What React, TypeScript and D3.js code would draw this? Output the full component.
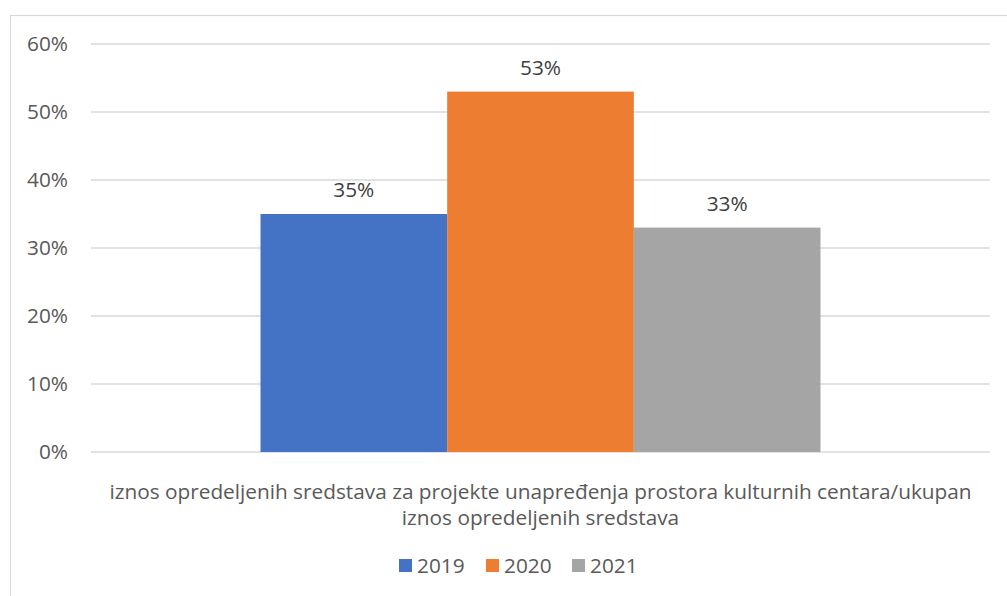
import React from "react";
import * as d3 from "d3";

const categories = ["iznos opredeljenih sredstava za projekte unapređenja prostora kulturnih centara/ukupan iznos opredeljenih sredstava"];
const categoryLines = ["iznos opredeljenih sredstava za projekte unapređenja prostora kulturnih centara/ukupan", "iznos opredeljenih sredstava"];
const seriesNames = ["2019", "2020", "2021"];
const seriesValues = [0.35, 0.53, 0.33];
const seriesColors = ["#4472C4", "#ED7D31", "#A5A5A5"];
const yTicks = [0, 0.1, 0.2, 0.3, 0.4, 0.5, 0.6];

const W = 1007;
const H = 596;
const left = 91;
const right = 990;
const top = 44;
const bottom = 452;
const font = "'Open Sans', sans-serif";
const fs = 20.8;

export default function App() {
  const y = d3.scaleLinear().domain([0, 0.6]).range([bottom, top]);
  const x0 = d3.scaleBand().domain(categories).range([left, right]).paddingInner(0).paddingOuter(0.3027);
  const x1 = d3.scaleBand().domain(seriesNames).range([0, x0.bandwidth()]).padding(0);
  const pct = d3.format(".0%");
  const legendX = [399, 486, 572];
  return (
    <svg width={W} height={H} style={{ position: "absolute", left: 0, top: 0 }} fontFamily={font}>
      <rect x={0} y={0} width={W} height={H} fill="#fff" />
      <rect x={10.5} y={15.5} width={W + 10} height={H + 10} fill="#fff" stroke="#D9D9D9" strokeWidth={1.2} />
      {yTicks.map((t) => (
        <g key={t}>
          <line x1={left} x2={right} y1={y(t)} y2={y(t)} stroke="#D9D9D9" strokeWidth={1.3} />
          <text x={68} y={y(t)} dy="0.35em" textAnchor="end" fontSize={fs} fill="#595959">{pct(t)}</text>
        </g>
      ))}
      {categories.map((c) => (
        <g key={c} transform={`translate(${x0(c)},0)`}>
          {seriesNames.map((s, i) => (
            <g key={s}>
              <rect x={x1(s)} y={y(seriesValues[i])} width={x1.bandwidth()} height={bottom - y(seriesValues[i])} fill={seriesColors[i]} />
              <text x={(x1(s) as number) + x1.bandwidth() / 2} y={y(seriesValues[i]) - 24} dy="0.35em" textAnchor="middle" fontSize={fs} fill="#404040">{pct(seriesValues[i])}</text>
            </g>
          ))}
        </g>
      ))}
      {categoryLines.map((l, i) => (
        <text key={i} x={(left + right) / 2} y={492 + i * 26} dy="0.35em" textAnchor="middle" fontSize={fs} fill="#595959">{l}</text>
      ))}
      {seriesNames.map((s, i) => (
        <g key={s}>
          <rect x={legendX[i]} y={559} width={13} height={13} fill={seriesColors[i]} />
          <text x={legendX[i] + 18} y={565.5} dy="0.35em" fontSize={fs} fill="#595959">{s}</text>
        </g>
      ))}
    </svg>
  );
}
